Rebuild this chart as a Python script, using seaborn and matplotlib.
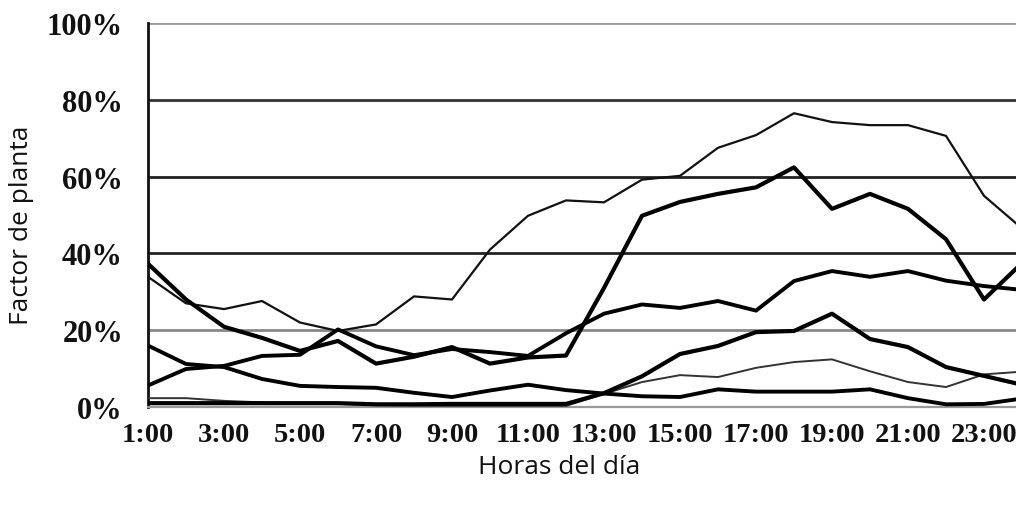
import numpy as np
import pandas as pd
import matplotlib
matplotlib.use("Agg")
import matplotlib.pyplot as plt
import seaborn as sns

# ---- data (values in % of plant factor) ----
hours = list(range(1, 25))
hour_labels = ["1:00", "3:00", "5:00", "7:00", "9:00", "11:00",
               "13:00", "15:00", "17:00", "19:00", "21:00", "23:00"]

serie_a = [33.9, 27.0, 25.5, 27.6, 22.0, 19.8, 21.5, 28.8, 28.0, 41.0, 49.8, 53.8,
           53.3, 59.2, 60.2, 67.5, 70.8, 76.5, 74.2, 73.4, 73.4, 70.6, 55.0, 46.5]
serie_b = [37.3, 28.0, 20.9, 18.0, 14.6, 17.2, 11.3, 13.1, 15.6, 11.3, 12.9, 13.4,
           31.0, 49.8, 53.4, 55.5, 57.2, 62.4, 51.6, 55.5, 51.6, 43.7, 28.0, 37.5]
serie_d = [5.6, 9.9, 10.7, 13.3, 13.6, 20.2, 15.8, 13.5, 15.1, 14.3, 13.3, 19.2,
           24.3, 26.7, 25.8, 27.6, 25.1, 32.8, 35.4, 33.9, 35.4, 32.9, 31.5, 30.5]
serie_e = [16.0, 11.2, 10.4, 7.3, 5.5, 5.2, 5.0, 3.7, 2.6, 4.3, 5.8, 4.4,
           3.5, 2.8, 2.6, 4.6, 4.0, 4.0, 4.0, 4.6, 2.3, 0.7, 0.8, 2.2]
serie_f = [2.3, 2.3, 1.6, 1.2, 1.0, 0.8, 0.5, 0.4, 0.3, 0.3, 0.3, 0.3,
           3.4, 6.5, 8.3, 7.8, 10.2, 11.7, 12.4, 9.3, 6.5, 5.2, 8.5, 9.2]
serie_g = [1.0, 1.0, 1.0, 1.0, 1.0, 1.0, 0.7, 0.7, 0.8, 0.8, 0.8, 0.8,
           3.6, 8.0, 13.8, 15.9, 19.5, 19.8, 24.3, 17.7, 15.6, 10.4, 8.1, 5.8]

y_ticks = [0, 20, 40, 60, 80, 100]
y_tick_labels = ["0%", "20%", "40%", "60%", "80%", "100%"]

series = {"A": serie_a, "B": serie_b, "D": serie_d,
          "E": serie_e, "F": serie_f, "G": serie_g}
widths = {"A": 1.6, "B": 3.0, "D": 2.8, "E": 2.8, "F": 1.4, "G": 3.0}
colors = {"A": "#111111", "B": "#000000", "D": "#000000",
          "E": "#000000", "F": "#333333", "G": "#000000"}

# ---- figure ----
sns.set_theme(style="white")
W, H = 1016, 506
fig = plt.figure(figsize=(W / 100, H / 100), dpi=100)
fig.patch.set_facecolor("white")
left, right, top, bottom = 148, 1016, 24, 408
ax = fig.add_axes([left / W, 1 - bottom / H, (right - left) / W, (bottom - top) / H])
ax.set_facecolor("white")

df = pd.DataFrame(series)
df["hora"] = hours
long = df.melt(id_vars="hora", var_name="serie", value_name="valor")

# draw thin lines first, thick on top
for name in ["F", "A", "E", "D", "G", "B"]:
    sub = long[long["serie"] == name]
    sns.lineplot(data=sub, x="hora", y="valor", ax=ax, color=colors[name],
                 linewidth=widths[name], legend=False, zorder=3,
                 solid_joinstyle="round", solid_capstyle="round")

ax.set_xlim(1, 1 + (right - left) / 38.0)
ax.set_ylim(0, 100)

ax.set_xticks(list(range(1, 24, 2)))
ax.set_xticklabels(hour_labels, family="Liberation Serif", fontweight="bold",
                   fontsize=20.5, color="#111111")
ax.set_yticks(y_ticks)
ax.set_yticklabels(y_tick_labels, family="Liberation Serif", fontweight="bold",
                   fontsize=22, color="#111111")

ax.tick_params(axis="x", direction="out", length=7, width=1.2, color="#555555", pad=4)
ax.tick_params(axis="y", direction="out", length=8, width=1.6, color="#444444", pad=10)

ax.yaxis.grid(True)
ax.xaxis.grid(False)
grid_cols = ["#999999", "#888888", "#222222", "#222222", "#333333", "#999999"]
for gl, c in zip(ax.get_ygridlines(), grid_cols):
    gl.set_color(c)
    gl.set_linewidth(2.0)
    gl.set_zorder(1)

for s in ["top", "right"]:
    ax.spines[s].set_visible(False)
ax.spines["left"].set_color("#111111")
ax.spines["left"].set_linewidth(2.0)
ax.spines["bottom"].set_color("#999999")
ax.spines["bottom"].set_linewidth(1.6)

ax.set_xlabel("")
ax.set_ylabel("")
fig.text(559 / W, 1 - 468 / H, "Horas del día", ha="center", va="center",
         family="Open Sans", fontsize=19, color="#111111")
fig.text(22 / W, 1 - 225 / H, "Factor de planta", ha="center", va="center",
         rotation=90, family="Open Sans", fontsize=19, color="#111111")

fig.savefig("out.png", dpi=100, facecolor="white")
